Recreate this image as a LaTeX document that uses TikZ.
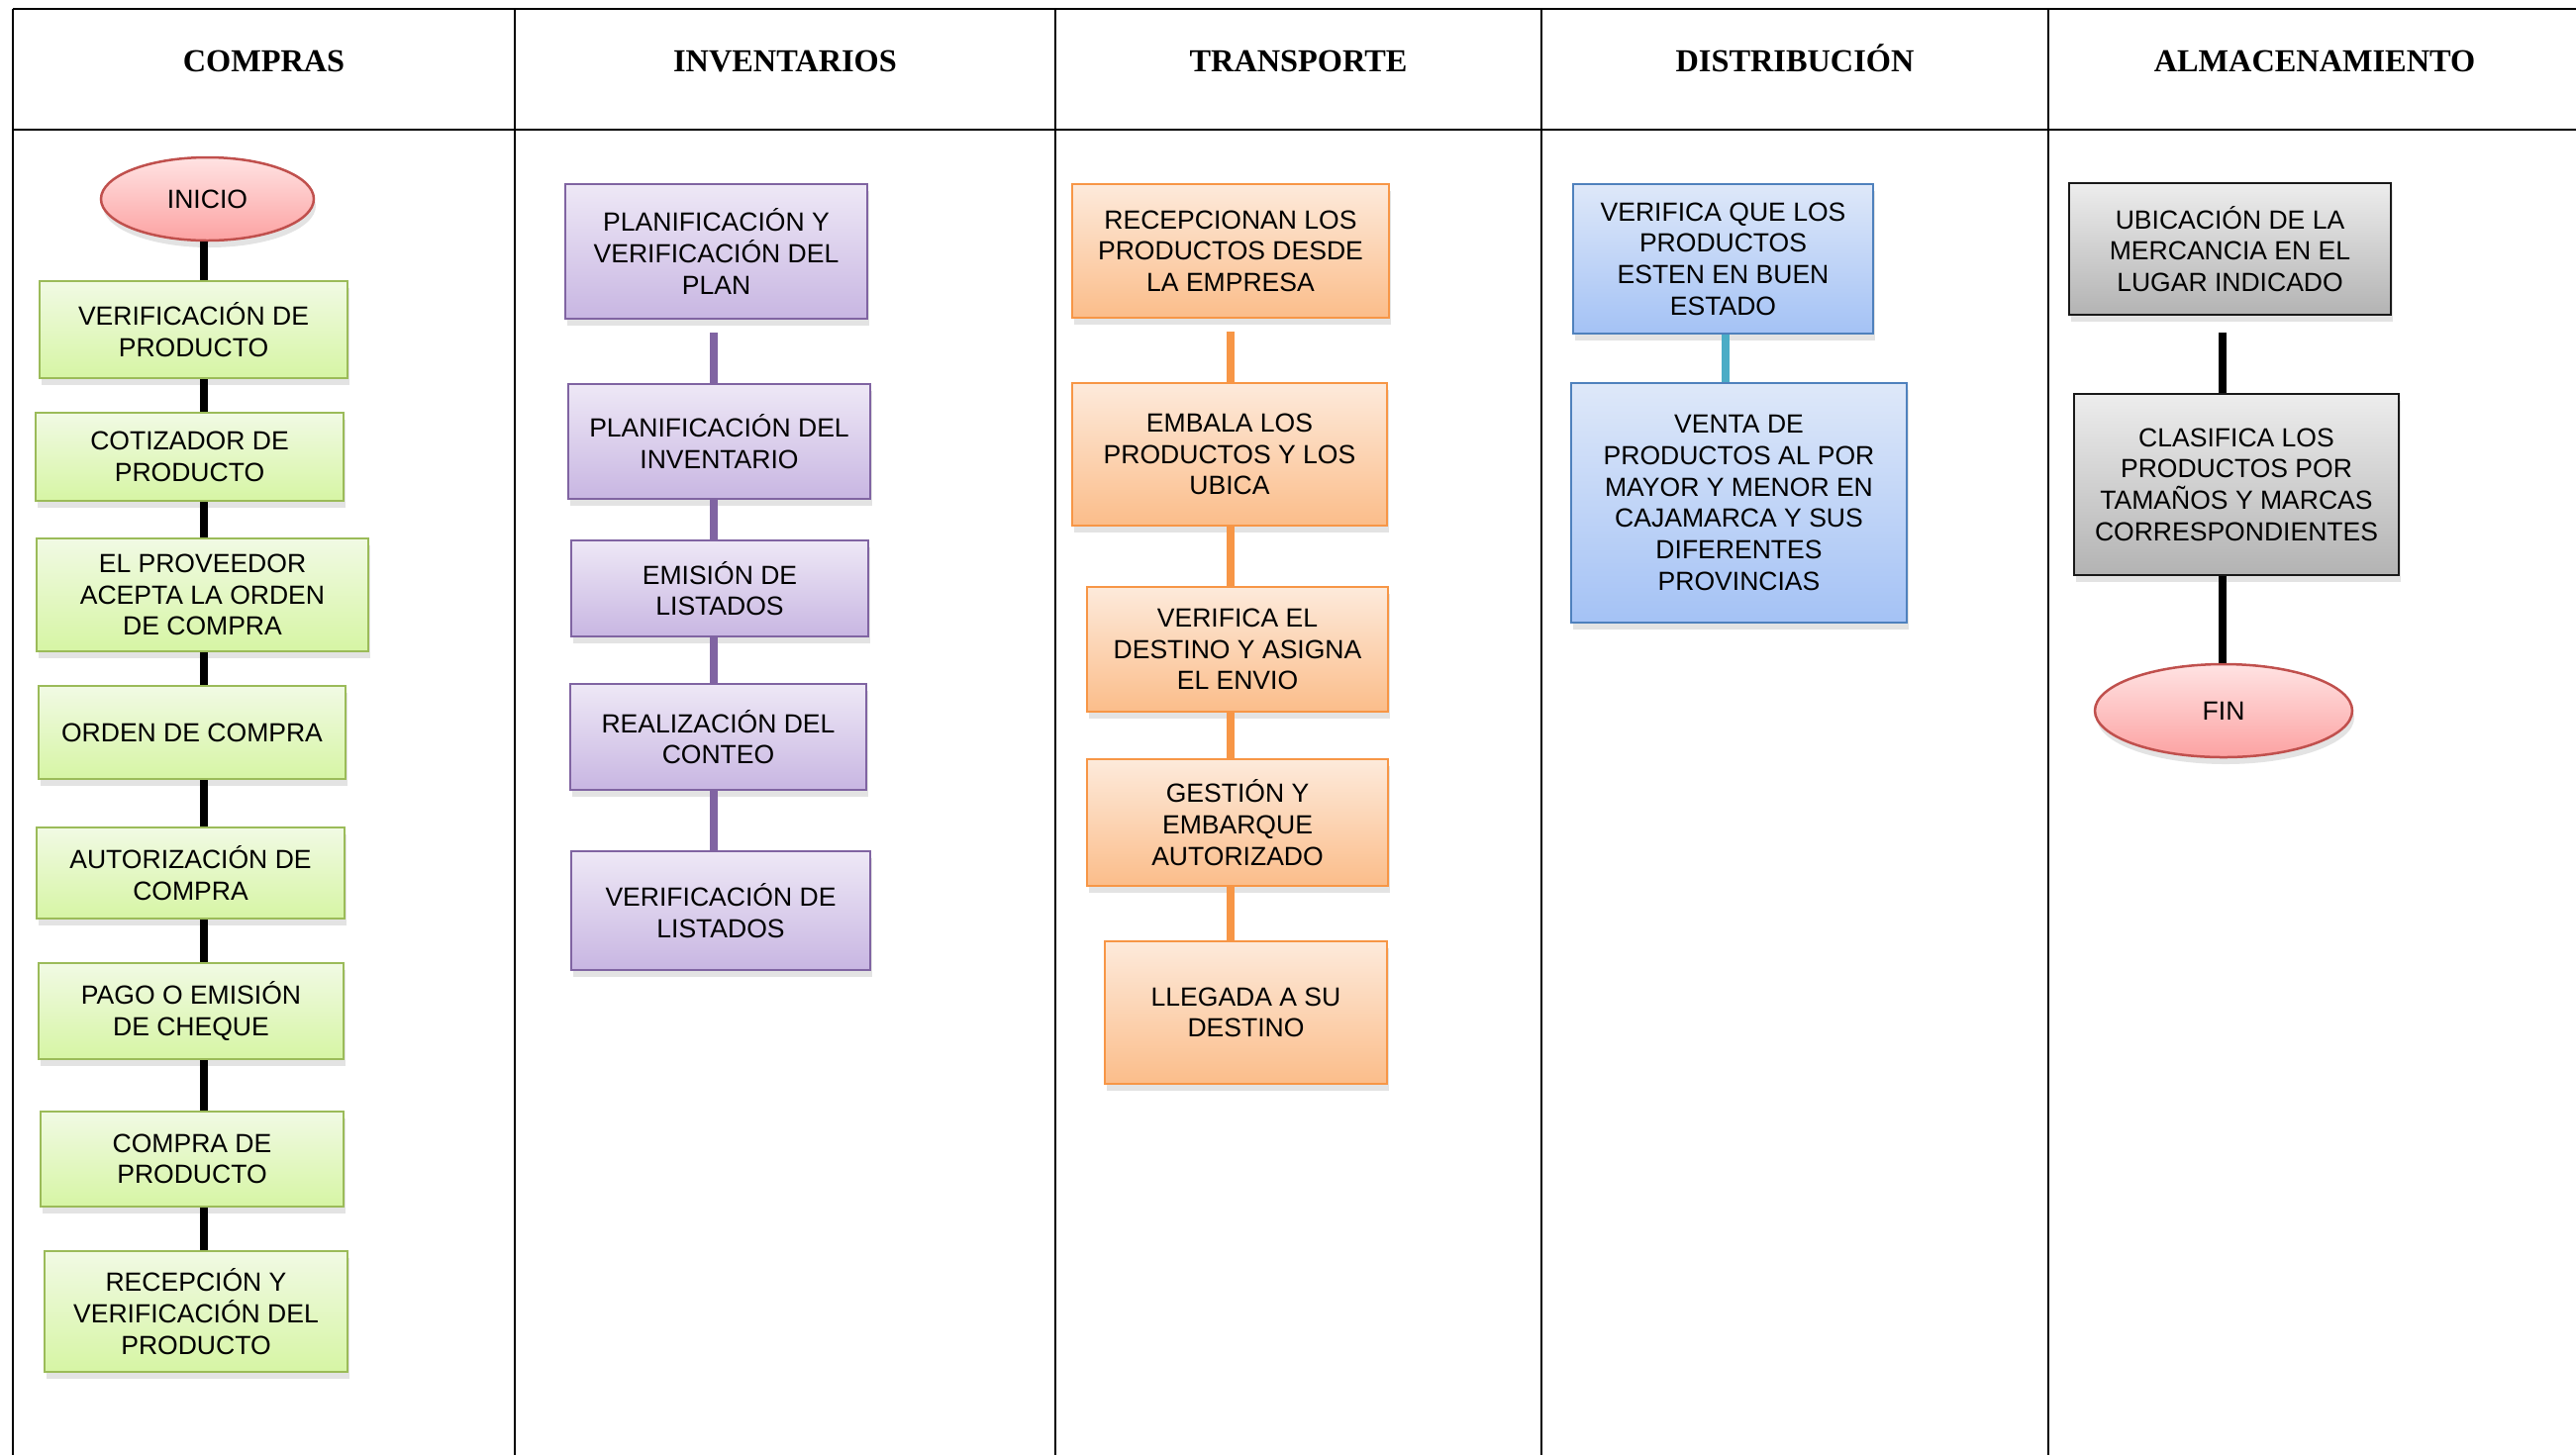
\documentclass[tikz,border=0pt]{standalone}
\usepackage{fontspec}
\setmainfont{Liberation Sans}
\newfontfamily\cabecera{Liberation Serif}
\usetikzlibrary{shapes.geometric,shadows,calc}

\definecolor{verdeborde}{HTML}{9BBB59}
\definecolor{verdearriba}{HTML}{F1FAE4}
\definecolor{verdeabajo}{HTML}{D6F5A4}
\definecolor{moradoborde}{HTML}{8064A2}
\definecolor{moradoarriba}{HTML}{EEE8F6}
\definecolor{moradoabajo}{HTML}{C8B6E2}
\definecolor{naranjaborde}{HTML}{F79646}
\definecolor{naranjaarriba}{HTML}{FDEADB}
\definecolor{naranjaabajo}{HTML}{FBBD8A}
\definecolor{azulborde}{HTML}{4F81BD}
\definecolor{azularriba}{HTML}{DEE8F9}
\definecolor{azulabajo}{HTML}{A4C2F5}
\definecolor{celeste}{HTML}{4BACC6}
\definecolor{grisarriba}{HTML}{EDEDED}
\definecolor{grisabajo}{HTML}{B3B3B3}
\definecolor{rojoborde}{HTML}{C0504D}
\definecolor{rojoarriba}{HTML}{FFE3E3}
\definecolor{rojoabajo}{HTML}{FCA2A2}

\begin{document}
\begin{tikzpicture}[x=0.1mm,y=-0.1mm,
    caja/.style={draw,rectangle,line width=0.25mm,align=center,inner sep=1pt,
      font=\fontsize{7.55}{9}\selectfont,
      drop shadow={opacity=0.22,shadow xshift=0.2mm,shadow yshift=-0.7mm}},
    verde/.style={caja,draw=verdeborde,top color=verdearriba,bottom color=verdeabajo},
    morado/.style={caja,draw=moradoborde,top color=moradoarriba,bottom color=moradoabajo},
    naranja/.style={caja,draw=naranjaborde,top color=naranjaarriba,bottom color=naranjaabajo},
    azul/.style={caja,draw=azulborde,top color=azularriba,bottom color=azulabajo},
    gris/.style={caja,draw=black!90,top color=grisarriba,bottom color=grisabajo},
    elipse/.style={caja,ellipse,inner sep=0pt,draw=rojoborde,top color=rojoarriba,bottom color=rojoabajo},
    titulo/.style={anchor=base,font=\cabecera\fontsize{9.2}{11}\selectfont\bfseries},
    linea/.style={line width=0.8mm},
  ]
    \pgfmathsetmacro{\arriba}{9}
    \pgfmathsetmacro{\cabezal}{131}
    \pgfmathsetmacro{\ancho}{2602}
    \pgfmathsetmacro{\alto}{1470}
    \useasboundingbox (0,0) rectangle (\ancho,\alto);

    % tabla
    \draw[line width=0.28mm] (13,\arriba) -- (\ancho,\arriba);
    \draw[line width=0.28mm] (13,\cabezal) -- (\ancho,\cabezal);
    \foreach \xcol in {13,520,1066,1557,2069}
        \draw[line width=0.28mm] (\xcol,\arriba) -- (\xcol,\alto);

    \node[titulo] (tcompras) at (266.5,72) {COMPRAS};
    \node[titulo] (tinventarios) at (793,72) {INVENTARIOS};
    \node[titulo] (ttransporte) at (1311.5,72) {TRANSPORTE};
    \node[titulo] (tdistribucion) at (1813,72) {DISTRIBUCIÓN};
    \node[titulo] (talmacen) at (2338,72) {ALMACENAMIENTO};

    % compras
    \coordinate (ejec) at (206,0);
    \node[elipse,minimum width=21.5mm,minimum height=8.4mm] (inicio) at (209.5,201) {INICIO};
    \node[verde,minimum width=31.1mm,minimum height=9.8mm] (c1) at (195.5,333) {VERIFICACIÓN DE\\PRODUCTO};
    \node[verde,minimum width=31.1mm,minimum height=8.9mm] (c2) at (191.5,461.5) {COTIZADOR DE\\PRODUCTO};
    \node[verde,minimum width=33.5mm,minimum height=11.4mm] (c3) at (204.5,601) {EL PROVEEDOR\\ACEPTA LA ORDEN\\DE COMPRA};
    \node[verde,minimum width=31.0mm,minimum height=9.4mm] (c4) at (194,740) {ORDEN DE COMPRA};
    \node[verde,minimum width=31.1mm,minimum height=9.2mm] (c5) at (192.5,882) {AUTORIZACIÓN DE\\COMPRA};
    \node[verde,minimum width=30.8mm,minimum height=9.7mm] (c6) at (193,1021.5) {PAGO O EMISIÓN\\DE CHEQUE};
    \node[verde,minimum width=30.6mm,minimum height=9.6mm] (c7) at (194,1171) {COMPRA DE\\PRODUCTO};
    \node[verde,minimum width=30.6mm,minimum height=12.2mm] (c8) at (198,1325) {RECEPCIÓN Y\\VERIFICACIÓN DEL\\PRODUCTO};
    \draw[linea] (ejec |- inicio.south) -- (ejec |- c1.north);
    \draw[linea] (ejec |- c1.south) -- (ejec |- c2.north);
    \draw[linea] (ejec |- c2.south) -- (ejec |- c3.north);
    \draw[linea] (ejec |- c3.south) -- (ejec |- c4.north);
    \draw[linea] (ejec |- c4.south) -- (ejec |- c5.north);
    \draw[linea] (ejec |- c5.south) -- (ejec |- c6.north);
    \draw[linea] (ejec |- c6.south) -- (ejec |- c7.north);
    \draw[linea] (ejec |- c7.south) -- (ejec |- c8.north);

    % inventarios
    \coordinate (ejei) at (721,0);
    \node[morado,minimum width=30.5mm,minimum height=13.6mm] (i1) at (723.5,254) {PLANIFICACIÓN Y\\VERIFICACIÓN DEL\\PLAN};
    \node[morado,minimum width=30.5mm,minimum height=11.6mm] (i2) at (726.5,446) {PLANIFICACIÓN DEL\\INVENTARIO};
    \node[morado,minimum width=30.0mm,minimum height=9.7mm] (i3) at (727,594.5) {EMISIÓN DE\\LISTADOS};
    \node[morado,minimum width=29.9mm,minimum height=10.7mm] (i4) at (725.5,744.5) {REALIZACIÓN DEL\\CONTEO};
    \node[morado,minimum width=30.2mm,minimum height=12.0mm] (i5) at (728,920) {VERIFICACIÓN DE\\LISTADOS};
    \draw[linea,moradoborde] ($(ejei |- i1.south)+(0,13)$) -- (ejei |- i2.north);
    \draw[linea,moradoborde] (ejei |- i2.south) -- (ejei |- i3.north);
    \draw[linea,moradoborde] (ejei |- i3.south) -- (ejei |- i4.north);
    \draw[linea,moradoborde] (ejei |- i4.south) -- (ejei |- i5.north);

    % transporte
    \coordinate (ejet) at (1243,0);
    \node[naranja,minimum width=32.0mm,minimum height=13.5mm] (t1) at (1243,253.5) {RECEPCIONAN LOS\\PRODUCTOS DESDE\\LA EMPRESA};
    \node[naranja,minimum width=31.8mm,minimum height=14.4mm] (t2) at (1242,459) {EMBALA LOS\\PRODUCTOS Y LOS\\UBICA};
    \node[naranja,minimum width=30.4mm,minimum height=12.6mm] (t3) at (1250,656) {VERIFICA EL\\DESTINO Y ASIGNA\\EL ENVIO};
    \node[naranja,minimum width=30.4mm,minimum height=12.8mm] (t4) at (1250,831) {GESTIÓN Y\\EMBARQUE\\AUTORIZADO};
    \node[naranja,minimum width=28.5mm,minimum height=14.4mm] (t5) at (1258.5,1023) {LLEGADA A SU\\DESTINO};
    \draw[linea,naranjaborde] ($(ejet |- t1.south)+(0,13)$) -- (ejet |- t2.north);
    \draw[linea,naranjaborde] (ejet |- t2.south) -- (ejet |- t3.north);
    \draw[linea,naranjaborde] (ejet |- t3.south) -- (ejet |- t4.north);
    \draw[linea,naranjaborde] (ejet |- t4.south) -- (ejet |- t5.north);

    % distribucion
    \coordinate (ejed) at (1743,0);
    \node[azul,minimum width=30.3mm,minimum height=15.1mm] (d1) at (1740.5,261.5) {VERIFICA QUE LOS\\PRODUCTOS\\ESTEN EN BUEN\\ESTADO};
    \node[azul,minimum width=33.9mm,minimum height=24.2mm] (d2) at (1756.5,508) {VENTA DE\\PRODUCTOS AL POR\\MAYOR Y MENOR EN\\CAJAMARCA Y SUS\\DIFERENTES\\PROVINCIAS};
    \draw[linea,celeste] (ejed |- d1.south) -- (ejed |- d2.north);

    % almacenamiento
    \coordinate (ejea) at (2245,0);
    \node[gris,minimum width=32.5mm,minimum height=13.3mm] (a1) at (2252.5,251.5) {UBICACIÓN DE LA\\MERCANCIA EN EL\\LUGAR INDICADO};
    \node[gris,minimum width=32.8mm,minimum height=18.3mm] (a2) at (2259,489.5) {CLASIFICA LOS\\PRODUCTOS POR\\TAMAÑOS Y MARCAS\\CORRESPONDIENTES};
    \node[elipse,minimum width=26.0mm,minimum height=9.4mm] (fin) at (2246,718) {FIN};
    \draw[linea] ($(ejea |- a1.south)+(0,17)$) -- (ejea |- a2.north);
    \draw[linea] (ejea |- a2.south) -- (ejea |- fin.north);
\end{tikzpicture}
\end{document}
